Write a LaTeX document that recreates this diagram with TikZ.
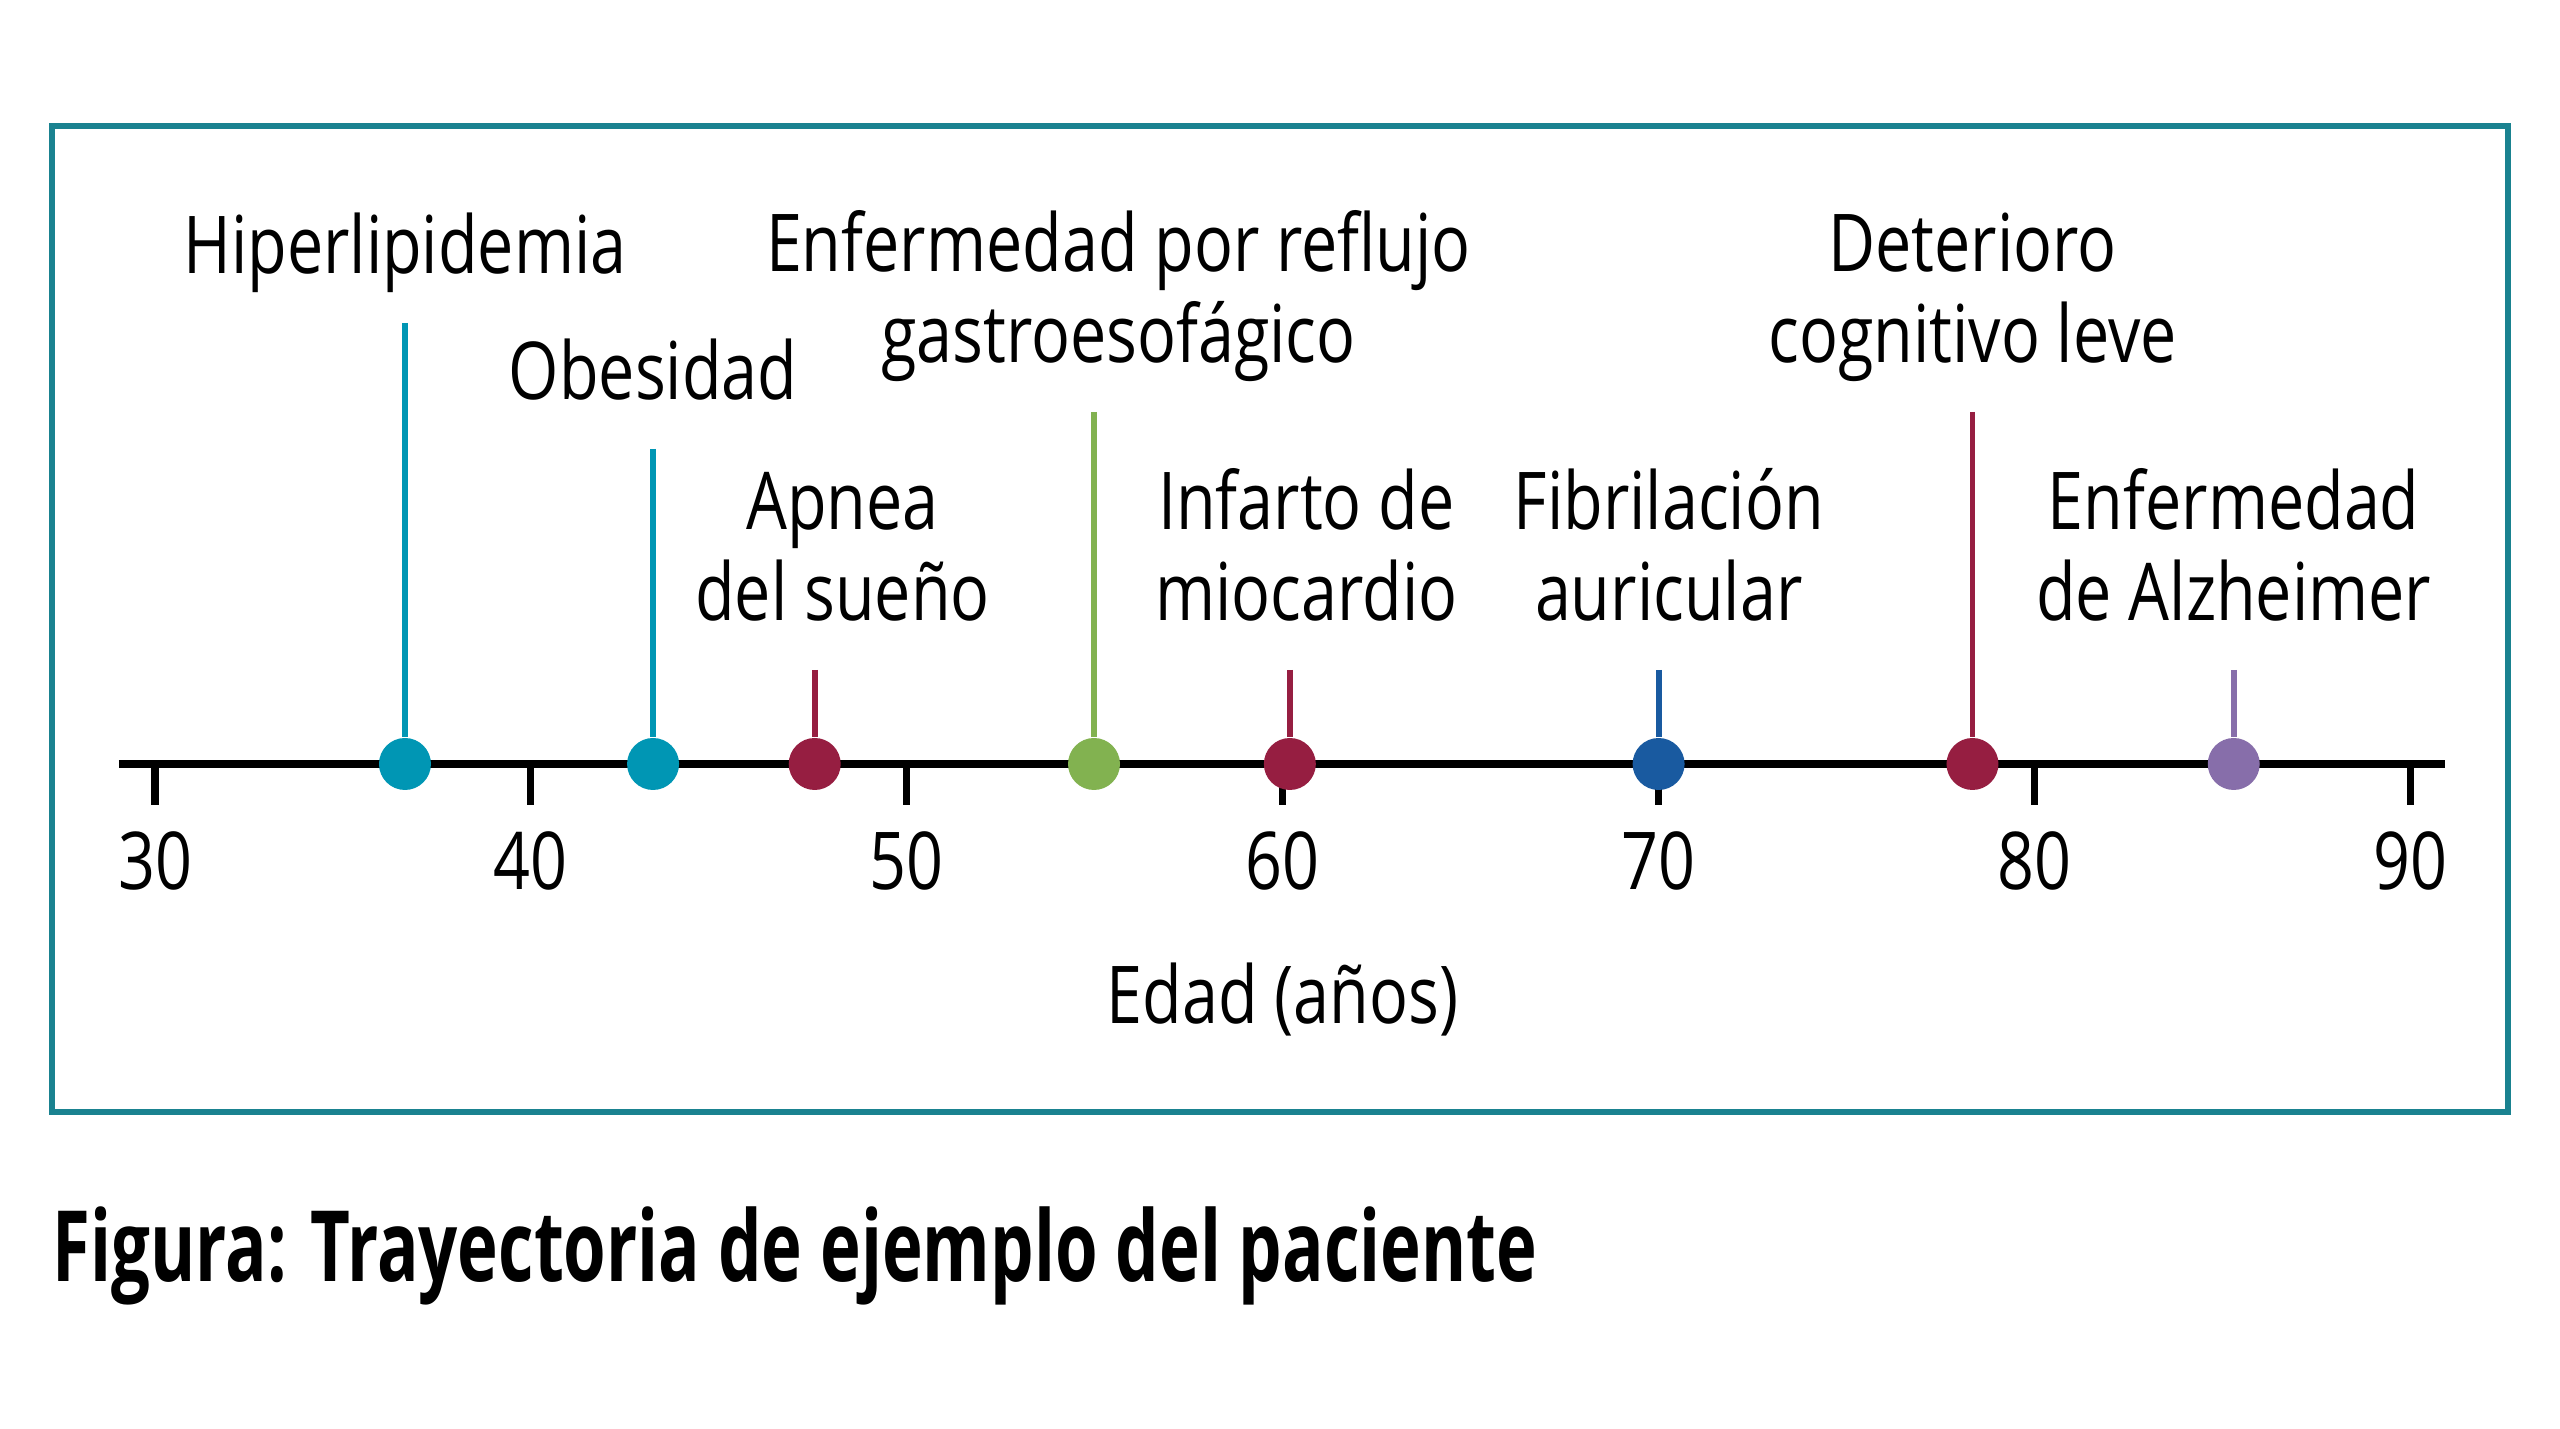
\documentclass[tikz,border=0pt]{standalone}
\usepackage{fontspec}
\setmainfont{Open Sans}[FakeStretch=0.81]
\newfontfamily\titlefont{Open Sans}[FakeStretch=0.70]
\usetikzlibrary{positioning}

\definecolor{FrameColor}{RGB}{26,130,144}
\definecolor{TealColor}{RGB}{0,150,180}
\definecolor{CrimsonColor}{RGB}{150,30,65}
\definecolor{GreenColor}{RGB}{130,178,80}
\definecolor{BlueColor}{RGB}{25,90,160}
\definecolor{PurpleColor}{RGB}{135,110,170}

\tikzstyle{axis} = [line width=2pt, black]
\tikzstyle{tick} = [line width=2pt, black]
\tikzset{
  event/.style={circle, fill=#1, minimum size=0.52cm, inner sep=0pt},
  stem/.style={line width=1.7pt, #1},
  event label/.style={font=\fontsize{22.7}{25.9}\selectfont, align=center, text depth=0pt, anchor=south, inner sep=0pt},
  age label/.style={font=\fontsize{22.7}{25.9}\selectfont, anchor=base, inner sep=0pt}
}

\begin{document}
\begin{tikzpicture}
    \useasboundingbox (0,0) rectangle (25.6,14.29);

    % Frame
    \draw[FrameColor, line width=1.85pt] (0.52,3.17) rectangle (25.08,13.03);

    % Caption
    \node[anchor=base west, inner sep=0pt, font=\titlefont\bfseries\fontsize{28}{32}\selectfont] (caption) at (0.52,1.47) {Figura: Trayectoria de ejemplo del paciente};

    \begin{scope}[x=0.3759cm, xshift=-9.727cm]
        % Axis
        \coordinate (axis-start) at (29.04,6.65);
        \coordinate (axis-end) at (90.92,6.65);
        \draw[axis] (axis-start) -- (axis-end);

        % Ticks
        \foreach \a in {30,40,...,90} {
            \draw[tick] (\a,6.65) -- (\a,6.24);
            \node[age label] (tick-\a) at (\a,5.39) {\a};
        }
        \node[age label] (axis-title) at (60,4.05) {Edad (años)};

        % Events
        \foreach \age/\top/\col/\name/\lx/\txt in {
            36.65/11.06/TealColor/hiper/36.65/{Hiperlipidemia},
            43.25/9.80/TealColor/obes/43.25/{Obesidad},
            47.55/7.59/CrimsonColor/apnea/48.29/{Apnea\\del sueño},
            54.98/10.17/GreenColor/reflujo/55.63/{Enfermedad por reflujo\\gastroesofágico},
            60.19/7.59/CrimsonColor/infarto/60.63/{Infarto de\\miocardio},
            70.00/7.59/BlueColor/fibril/70.27/{Fibrilación\\auricular},
            78.35/10.17/CrimsonColor/deterioro/78.35/{Deterioro\\cognitivo leve},
            85.30/7.59/PurpleColor/alzh/85.30/{Enfermedad\\de Alzheimer}} {
            \coordinate (\name-top) at (\age,\top);
            \node[event=\col] (\name-dot) at (\age,6.65) {};
            \draw[stem=\col] (\name-top) -- (\name-dot);
            \node[event label] (\name-label) at (\lx,\top+0.49) {\txt};
        }
    \end{scope}
\end{tikzpicture}
\end{document}
